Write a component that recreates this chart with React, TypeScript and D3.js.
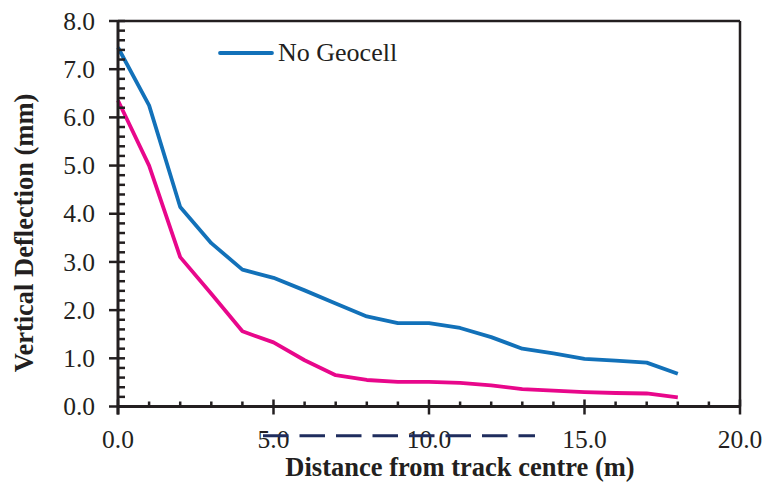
import React from "react";
import * as d3 from "d3";

const distances = [0, 1, 2, 3, 4, 5, 6, 7, 8, 9, 10, 11, 12, 13, 14, 15, 16, 17, 18];
const noGeocell = [7.45, 6.25, 4.14, 3.39, 2.84, 2.67, 2.41, 2.14, 1.87, 1.73, 1.73, 1.63, 1.44, 1.2, 1.1, 0.99, 0.95, 0.91, 0.68];
const withGeocell = [6.35, 5.0, 3.1, 2.34, 1.56, 1.33, 0.96, 0.65, 0.55, 0.51, 0.51, 0.49, 0.44, 0.36, 0.33, 0.3, 0.28, 0.27, 0.19];
const xMajorTicks = [0, 5, 10, 15, 20];
const yMajorTicks = [0, 1, 2, 3, 4, 5, 6, 7, 8];
const legendLabel = "No Geocell";
const xTitle = "Distance from track centre (m)";
const yTitle = "Vertical Deflection (mm)";

const W = 766;
const H = 482;
const left = 118;
const right = 740;
const top = 21;
const bottom = 406.5;
const axisColor = "#231f20";
const font = "'Liberation Serif', 'Times New Roman', serif";

export default function App() {
  const x = d3.scaleLinear().domain([0, 20]).range([left, right]);
  const y = d3.scaleLinear().domain([0, 8]).range([bottom, top]);
  const xMinor = d3.range(0, 21, 1).filter((v) => v % 5 !== 0);
  const yMinor = d3.range(0, 41, 1).map((v) => v / 5).filter((v, i) => i % 5 !== 0);
  const line = d3
    .line<number>()
    .x((_, i) => x(distances[i]))
    .y((d) => y(d));

  return (
    <svg width={W} height={H} style={{ position: "absolute", left: 0, top: 0, background: "#fff" }}>
      <rect width={W} height={H} fill="#fff" />
      {/* series */}
      <path d={line(withGeocell) || ""} fill="none" stroke="#e8078b" strokeWidth={3.8} strokeLinejoin="round" />
      <path d={line(noGeocell) || ""} fill="none" stroke="#1271b9" strokeWidth={3.8} strokeLinejoin="round" />
      {/* frame */}
      <line x1={left} x2={right} y1={top} y2={top} stroke={axisColor} strokeWidth={2.5} />
      <line x1={right} x2={right} y1={top} y2={bottom} stroke={axisColor} strokeWidth={2.5} />
      <line x1={left} x2={right + 1} y1={bottom} y2={bottom} stroke={axisColor} strokeWidth={3} />
      <line x1={left} x2={left} y1={top - 1} y2={bottom + 8} stroke={axisColor} strokeWidth={3} />
      {/* y ticks */}
      {yMajorTicks.map((v) => (
        <g key={"ym" + v}>
          <line x1={left - 9} x2={left + 7} y1={y(v)} y2={y(v)} stroke={axisColor} strokeWidth={2.5} />
          <text x={95} y={y(v)} dy="0.34em" textAnchor="end" fontFamily={font} fontSize={25.5} fill={axisColor}>
            {v.toFixed(1)}
          </text>
        </g>
      ))}
      {yMinor.map((v) => (
        <line key={"yn" + v} x1={left} x2={left + 7} y1={y(v)} y2={y(v)} stroke={axisColor} strokeWidth={2.5} />
      ))}
      {/* x ticks */}
      {xMajorTicks.map((v) => (
        <g key={"xm" + v}>
          <line x1={x(v)} x2={x(v)} y1={bottom - 7} y2={bottom + 8} stroke={axisColor} strokeWidth={2.5} />
          <text x={x(v)} y={448} textAnchor="middle" fontFamily={font} fontSize={25.5} fill={axisColor}>
            {v.toFixed(1)}
          </text>
        </g>
      ))}
      {xMinor.map((v) => (
        <line key={"xn" + v} x1={x(v)} x2={x(v)} y1={bottom - 5} y2={bottom} stroke={axisColor} strokeWidth={2.5} />
      ))}
      {/* dashed stray line */}
      <line x1={263} x2={535} y1={435.7} y2={435.7} stroke="#1f2d5e" strokeWidth={3} strokeDasharray="25.5 11" />
      {/* legend */}
      <line x1={220} x2={272} y1={53} y2={53} stroke="#1271b9" strokeWidth={3.8} strokeLinecap="round" />
      <text x={278} y={61} fontFamily={font} fontSize={26} fill={axisColor}>
        {legendLabel}
      </text>
      {/* axis titles */}
      <text x={460} y={476} textAnchor="middle" fontFamily={font} fontSize={26.5} fontWeight="bold" fill={axisColor}>
        {xTitle}
      </text>
      <text
        transform={`translate(33, 233) rotate(-90)`}
        textAnchor="middle"
        fontFamily={font}
        fontSize={26.5}
        fontWeight="bold"
        fill={axisColor}
      >
        {yTitle}
      </text>
    </svg>
  );
}
